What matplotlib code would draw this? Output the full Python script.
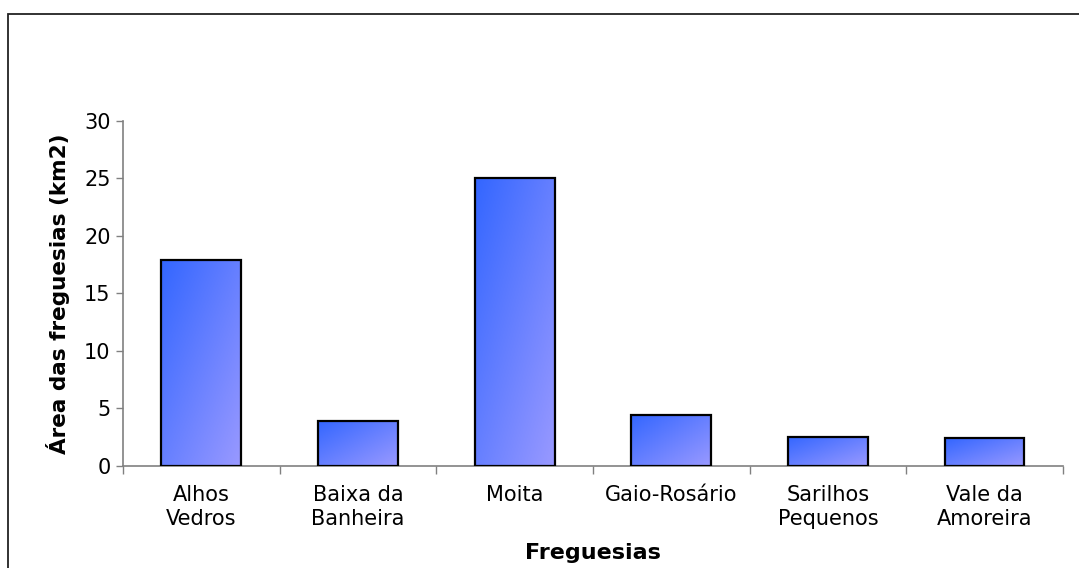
import numpy as np
import matplotlib
matplotlib.use("Agg")
import matplotlib.pyplot as plt
from matplotlib.patches import Rectangle
from matplotlib.colors import LinearSegmentedColormap

freguesias = ["Alhos\nVedros", "Baixa da\nBanheira", "Moita", "Gaio-Rosário",
              "Sarilhos\nPequenos", "Vale da\nAmoreira"]
areas = [17.9, 3.95, 25.0, 4.45, 2.55, 2.4]

plt.rcParams['font.family'] = ['DejaVu Sans']

fig = plt.figure(figsize=(10.79, 5.68), dpi=100)
ax = fig.add_axes([0.114, 0.1796, 0.871, 0.6074])

# outer chart frame (right/bottom run off the image)
fig.patches.append(Rectangle((8 / 1079, -0.05), 1.2, 1 - 14 / 568 + 0.05,
                             transform=fig.transFigure, fill=False,
                             edgecolor="#222222", linewidth=1.3))

x = np.arange(len(areas))
bars = ax.bar(x, areas, width=0.51, color="none", edgecolor="black",
              linewidth=1.6, zorder=3)

cmap = LinearSegmentedColormap.from_list("grad", ["#3366ff", "#9999ff"])
gy, gx = np.mgrid[0:1:100j, 0:1:100j]
grad = (gx + gy) / 2
for b in bars:
    x0, y0 = b.get_x(), b.get_y()
    w, h = b.get_width(), b.get_height()
    im = ax.imshow(grad, cmap=cmap, extent=[x0, x0 + w, y0, y0 + h],
                   aspect="auto", origin="upper", zorder=2)
    im.set_clip_path(b)

ax.set_xlim(-0.5, len(areas) - 0.5)
ax.set_ylim(0, 30)
ax.set_yticks(range(0, 31, 5))
ax.tick_params(axis="y", labelsize=15, length=5, width=1, color="#808080",
               direction="out", pad=4)

ax.set_xticks(np.arange(-0.5, len(areas), 1))
ax.set_xticklabels([])
ax.set_xticks(x, minor=True)
ax.set_xticklabels(freguesias, minor=True, fontsize=15, linespacing=1.2)
ax.tick_params(axis="x", which="major", length=6, width=1, color="#808080",
               direction="out")
ax.tick_params(axis="x", which="minor", length=0, pad=14)

for s in ["top", "right"]:
    ax.spines[s].set_visible(False)
for s in ["left", "bottom"]:
    ax.spines[s].set_color("#808080")
    ax.spines[s].set_linewidth(1.2)

ax.set_ylabel("Área das freguesias (km2)", fontsize=15.5, fontweight="bold",
              labelpad=10)
ax.set_xlabel("Freguesias", fontsize=16, fontweight="bold", labelpad=10)

fig.savefig("out.png", dpi=100)
